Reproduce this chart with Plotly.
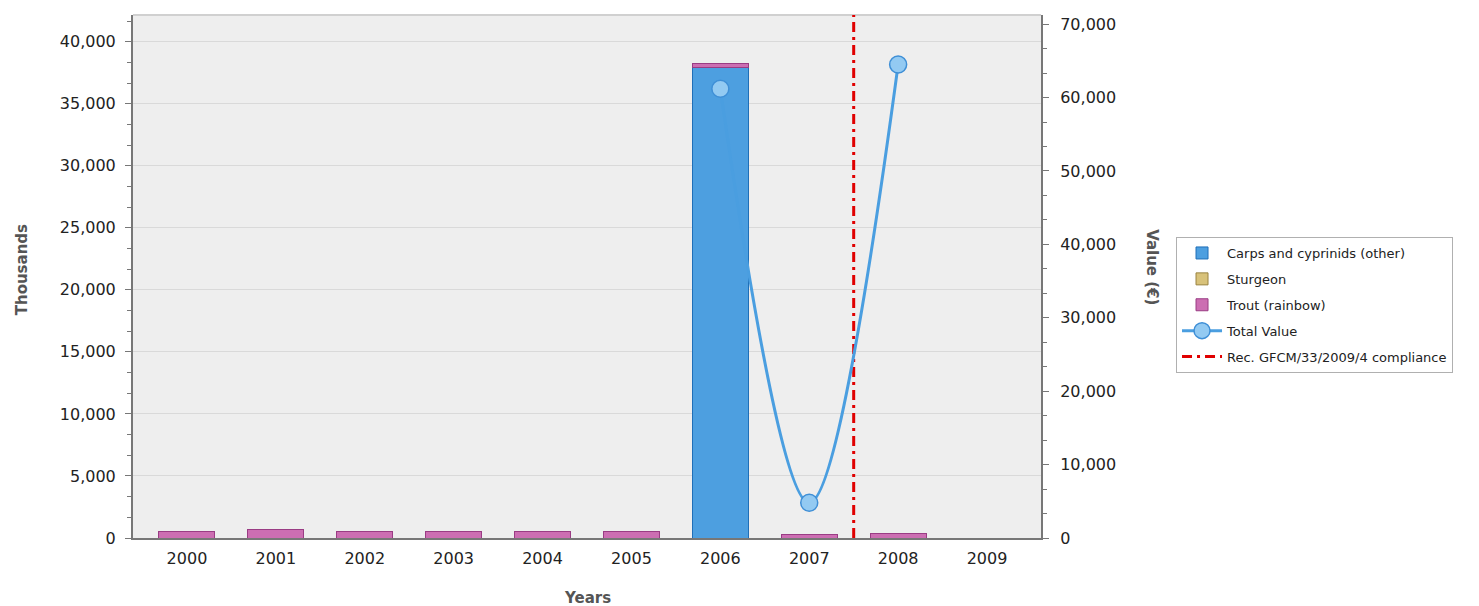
import plotly.graph_objects as go

years = [2000, 2001, 2002, 2003, 2004, 2005, 2006, 2007, 2008, 2009]
carps = [0, 0, 0, 0, 0, 0, 37900, 0, 0, 0]
sturgeon = [0, 0, 0, 0, 0, 0, 0, 0, 0, 0]
trout = [500, 650, 500, 500, 500, 500, 350, 300, 350, 0]
total_value = [None, None, None, None, None, None, 61200, 4800, 64500, None]
compliance_year = 2007.5

left_max = 42150
right_max = 71250

fig = go.Figure()
fig.add_trace(go.Bar(x=years, y=carps, name="Carps and cyprinids (other)",
                     marker=dict(color="#4d9fe0", line=dict(color="#1f6fb8", width=1)),
                     width=0.63, legendgroup="a"))
fig.add_trace(go.Bar(x=years, y=sturgeon, name="Sturgeon",
                     marker=dict(color="#d8c27a", line=dict(color="#9a8440", width=1)),
                     width=0.63, legendgroup="b"))
fig.add_trace(go.Bar(x=years, y=trout, name="Trout (rainbow)",
                     marker=dict(color="#cc6eb2", line=dict(color="#9a3c84", width=1)),
                     width=0.63, legendgroup="c"))
fig.add_trace(go.Scatter(x=years, y=total_value, name="Total Value", yaxis="y2",
                         mode="lines+markers", line=dict(shape="spline", smoothing=1, color="#4a9ee0", width=3),
                         marker=dict(size=17, color="#93caf2", line=dict(color="#3f8fd6", width=1.5)),
                         connectgaps=False, legendgroup="d"))
fig.add_trace(go.Scatter(x=[compliance_year, compliance_year], y=[0, left_max],
                         name="Rec. GFCM/33/2009/4 compliance", mode="lines",
                         line=dict(color="#e00000", width=3, dash="10px,5px,3px,5px"),
                         legendgroup="e"))

tickfont = dict(family="DejaVu Sans", size=16, color="#222222")
fig.update_layout(
    width=1471, height=598,
    margin=dict(l=125, r=438, t=7, b=68),
    paper_bgcolor="white", plot_bgcolor="#eeeeee",
    barmode="stack", bargap=0.37,
    showlegend=True,
    legend=dict(x=1.1487, y=0.5755, xanchor="left", yanchor="top",
                bgcolor="white", bordercolor="#b0b0b0", borderwidth=1,
                font=dict(family="DejaVu Sans", size=13, color="#222222"),
                traceorder="grouped", tracegroupgap=6, itemwidth=40),
    xaxis=dict(range=[1999.393, 2009.607], tickvals=years, ticktext=[str(y) for y in years],
               tickfont=tickfont, showgrid=False, zeroline=False, ticklabelstandoff=5,
               showline=True, linecolor="#777777", linewidth=2, ticks=""),
    yaxis=dict(range=[0, left_max], tickvals=[0, 5000, 10000, 15000, 20000, 25000, 30000, 35000, 40000],
               tickformat=",d", tickfont=tickfont, showgrid=True, gridcolor="#d9d9d9", gridwidth=1,
               zeroline=False, showline=True, linecolor="#777777", linewidth=2, ticklabelstandoff=6,
               ticks="outside", ticklen=6, tickcolor="#777777", tickwidth=1,
               minor=dict(dtick=5000/3, tick0=0, ticks="outside", ticklen=4, tickcolor="#777777", showgrid=False)),
    yaxis2=dict(range=[0, right_max], overlaying="y", side="right",
                tickvals=[0, 10000, 20000, 30000, 40000, 50000, 60000, 70000],
                tickformat=",d", tickfont=tickfont, showgrid=False, zeroline=False, ticklabelstandoff=8,
                showline=True, linecolor="#777777", linewidth=2,
                ticks="outside", ticklen=6, tickcolor="#777777", tickwidth=1,
                minor=dict(dtick=10000/3, tick0=0, ticks="outside", ticklen=4, tickcolor="#777777", showgrid=False)),
    shapes=[dict(type="line", xref="paper", yref="paper", x0=0, x1=1, y0=1, y1=1,
                 line=dict(color="#d0d0d0", width=2), layer="below")],
    annotations=[
        dict(text="<b>Thousands</b>", xref="paper", yref="paper", x=-0.1343, y=0.512,
             textangle=-90, showarrow=False, font=dict(family="DejaVu Sans", size=15, color="#555555")),
        dict(text="<b>Value (€)</b>", xref="paper", yref="paper", x=1.1343, y=0.518,
             textangle=90, showarrow=False, font=dict(family="DejaVu Sans", size=15, color="#555555")),
        dict(text="<b>Years</b>", xref="paper", yref="paper", x=0.5, y=-0.136,
             showarrow=False, font=dict(family="DejaVu Sans", size=15, color="#555555")),
    ],
)

fig.write_html("out.html")
